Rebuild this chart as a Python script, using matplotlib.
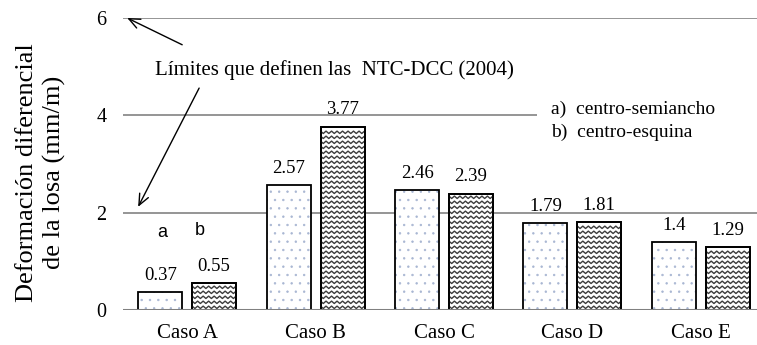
import numpy as np
import matplotlib
matplotlib.use('Agg')
import matplotlib.pyplot as plt
from matplotlib.collections import LineCollection
from matplotlib.patches import Rectangle

plt.rcParams['font.family'] = ['Liberation Serif', 'DejaVu Serif']
plt.rcParams['hatch.linewidth'] = 0.5

casos = ['Caso A', 'Caso B', 'Caso C', 'Caso D', 'Caso E']
centro_semiancho = [0.37, 2.57, 2.46, 1.79, 1.4]
centro_esquina = [0.55, 3.77, 2.39, 1.81, 1.29]
y_ticks = [0, 2, 4, 6]

fig = plt.figure(figsize=(7.57, 3.45), dpi=100)
ax = fig.add_axes([123 / 757, 35 / 345, 634 / 757, 292 / 345])
ax.set_xlim(-0.5, 4.438)
ax.set_ylim(0, 6)

x = np.arange(len(casos))
w = 0.343
off = 0.21

# bar a: white with light dots
ax.bar(x - off, centro_semiancho, w, color='white', edgecolor='#a8b6d2',
       linewidth=0, hatch='..', zorder=3)
cont_a = ax.bar(x - off, centro_semiancho, w, fill=False, edgecolor='black',
                linewidth=1.3, zorder=5)

# bar b: zigzag texture
cont_b = ax.bar(x + off, centro_esquina, w, color='white', edgecolor='black',
                linewidth=1.3, zorder=3)
border_b = ax.bar(x + off, centro_esquina, w, fill=False, edgecolor='black',
                  linewidth=1.3, zorder=5)

p0 = ax.transData.transform((0, 0))
p1 = ax.transData.transform((1, 1))
sx, sy = p1[0] - p0[0], p1[1] - p0[1]
step_x = 2.75 / sx
amp = 2.4 / sy
row_dy = 5.0 / sy

for bar in cont_b:
    x0, y0 = bar.get_x(), bar.get_y()
    bw, bh = bar.get_width(), bar.get_height()
    xs_full = np.arange(x0 - step_x, x0 + bw + 2 * step_x, step_x)
    zz = amp * (np.arange(len(xs_full)) % 2)
    inner = xs_full[(xs_full > x0) & (xs_full < x0 + bw)]
    t = np.concatenate([[x0], inner, [x0 + bw]])
    segs = []
    for r in np.arange(y0 + 0.3 * row_dy, y0 + bh - amp, row_dy):
        segs.append(np.column_stack([t, r + np.interp(t, xs_full, zz)]))
    lc = LineCollection(segs, colors='#3c3c3c', linewidths=1.0, zorder=4)
    ax.add_collection(lc)

ax.bar_label(cont_a, fmt='{:g}', padding=6, fontsize=13.5)
ax.bar_label(border_b, fmt='{:g}', padding=6, fontsize=13.5)

# horizontal grid and base line
for t in y_ticks[1:]:
    ax.axhline(t, color='#8c8c8c', linewidth=1.3, zorder=1)
ax.axhline(0, color='#808080', linewidth=2.2, zorder=6)

for s in ax.spines.values():
    s.set_visible(False)
ax.set_yticks(y_ticks)
ax.set_xticks(x)
ax.set_xticklabels(casos, fontsize=15)
ax.tick_params(axis='y', length=0, pad=12, labelsize=14.5)
ax.tick_params(axis='x', length=0, pad=10)

fig.text(41 / 757, 0.5, 'Deformación diferencial\nde la losa (mm/m)',
         rotation=90, ha='center', va='center', multialignment='center',
         fontsize=19, linespacing=1.3)

# NTC-DCC limit note with arrows to 6 and 2
ax.text(-0.249, 4.93, 'Límites que definen las  NTC-DCC (2004)',
        ha='left', va='center', fontsize=15, zorder=7)
arrow = dict(arrowstyle='->, head_length=0.8, head_width=0.35',
             color='black', lw=1.0, shrinkA=0, shrinkB=0)
ax.annotate('', xy=(-0.467, 6.0), xytext=(-0.039, 5.45), arrowprops=arrow,
            annotation_clip=False)
ax.annotate('', xy=(-0.382, 2.12), xytext=(0.093, 4.56), arrowprops=arrow)

# series key
ax.add_patch(Rectangle((2.726, 3.39), 1.8, 1.03, facecolor='white',
                       edgecolor='none', zorder=2))
ax.text(2.835, 4.13, 'a)  centro-semiancho', ha='left', va='center',
        fontsize=14, zorder=7)
ax.text(2.835, 3.66, 'b)  centro-esquina', ha='left', va='center',
        fontsize=14, zorder=7)

ax.text(-0.195, 1.6, 'a', ha='center', va='center', fontsize=13,
        family=['Liberation Sans', 'DejaVu Sans'])
ax.text(0.101, 1.64, 'b', ha='center', va='center', fontsize=13,
        family=['Liberation Sans', 'DejaVu Sans'])

fig.savefig('out.png', dpi=100)
